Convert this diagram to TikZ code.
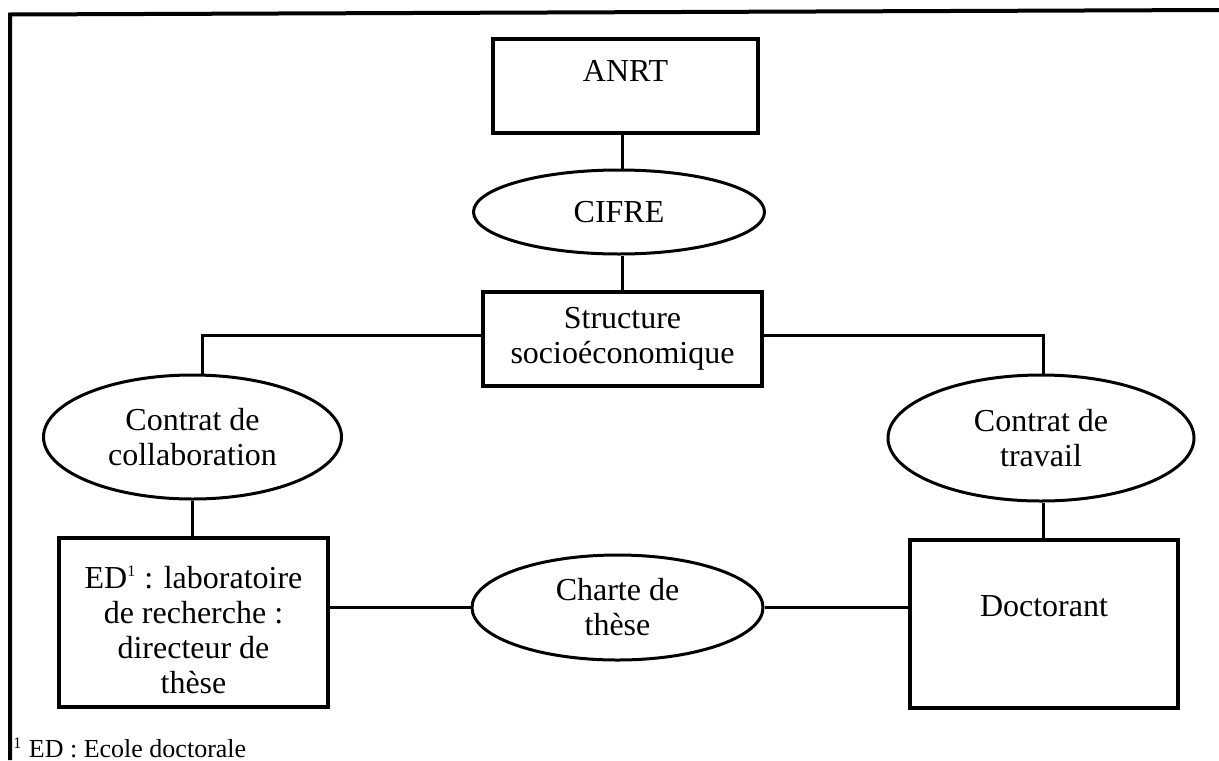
\documentclass[tikz,border=0pt]{standalone}
\usepackage{fontspec}
\setmainfont{Liberation Serif}
\usetikzlibrary{shapes.geometric}
\begin{document}
\begin{tikzpicture}[x=0.5pt,y=-0.5pt,
  box/.style={draw, rectangle, line width=1.8pt, align=center, inner sep=0pt,
    font=\fontsize{16}{17.5}\selectfont},
  oval/.style={draw, ellipse, line width=1.5pt, align=center, inner sep=0pt,
    font=\fontsize{16}{17.5}\selectfont},
  txt/.style={align=center, inner sep=0pt, font=\fontsize{16}{17.5}\selectfont},
  link/.style={line width=1.5pt},
  frame/.style={line width=2pt}]
\useasboundingbox (0,0) rectangle (1219,760);
% frame
\coordinate (ftop) at (1219,10);
\coordinate (fcorner) at (10,14.5);
\coordinate (fbot) at (10,760);
\draw[frame] (ftop) -- (fcorner) -- (fbot);
% nodes
\node[box, minimum width=132.5pt, minimum height=47pt] (anrt) at (625.5,86) {};
\node[txt] (anrttext) at (625.5,70.5) {ANRT};
\node[oval, minimum width=145.5pt, minimum height=42pt] (cifre) at (619,212) {CIFRE};
\node[box, minimum width=139.5pt, minimum height=47pt] (struct) at (622.5,339) {Structure\\socioéconomique};
\node[oval, minimum width=149pt, minimum height=62pt] (collab) at (192.5,437) {Contrat de\\collaboration};
\node[oval, minimum width=153pt, minimum height=63pt] (travail) at (1041,438) {Contrat de\\travail};
\node[box, minimum width=134.5pt, minimum height=84.5pt] (ed) at (193.5,622.5) {};
\node[txt] (edtext) at (193.5,630) {ED\textsuperscript{\fontsize{8}{8}\selectfont 1} : laboratoire\\de recherche :\\directeur de\\thèse};
\node[oval, minimum width=145.5pt, minimum height=52.5pt] (charte) at (617.5,607.5) {Charte de\\thèse};
\node[box, minimum width=134pt, minimum height=84pt] (doc) at (1044,624) {};
\node[txt] (doctext) at (1044,606) {Doctorant};
\node[anchor=base west, inner sep=0pt, font=\fontsize{13}{15}\selectfont] (fn) at (13,757) {\textsuperscript{\fontsize{8}{8}\selectfont 1} ED : Ecole doctorale};
% junction points
\coordinate (lj) at (202.5,335.5);
\coordinate (rj) at (1043,335.5);
% connectors
\draw[link] (struct.north |- anrt.south) -- (struct.north |- cifre.north);
\draw[link] (struct.north |- cifre.south) -- (struct.north);
\draw[link] (struct.west |- lj) -- (lj) -- (lj |- collab.north);
\draw[link] (struct.east |- rj) -- (rj) -- (rj |- travail.north);
\draw[link] (collab.south) -- (collab.south |- ed.north);
\draw[link] (rj |- travail.south) -- (rj |- doc.north);
\draw[link] (charte.west -| ed.east) -- (charte.west);
\draw[link] (charte.east) -- (charte.east -| doc.west);
\end{tikzpicture}
\end{document}
